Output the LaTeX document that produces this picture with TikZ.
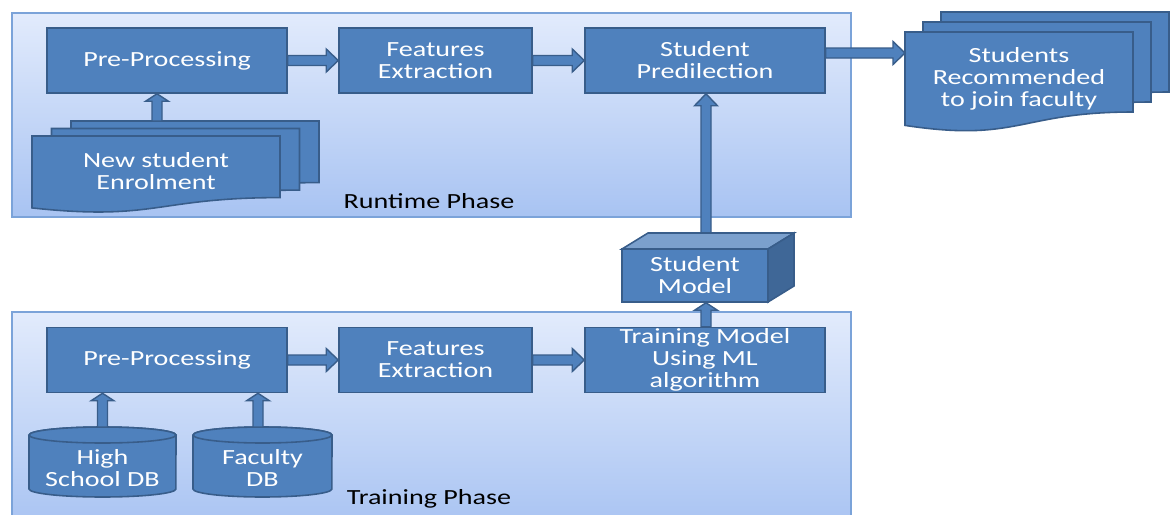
\documentclass[tikz,border=0pt]{standalone}
\usepackage{xcolor}
\usepackage{tikz}
\usetikzlibrary{calc}
\usepackage{fontspec}
\setmainfont{Carlito}[FakeStretch=1.3]
\definecolor{boxfill}{HTML}{4F81BD}
\definecolor{boxline}{HTML}{385D8A}
\definecolor{paneltop}{HTML}{E2EBFC}
\definecolor{panelbot}{HTML}{A8C3F2}
\definecolor{panelline}{HTML}{7BA3D9}

\tikzset{
  stage/.style={draw=boxline,fill=boxfill,text=white,line width=0.9pt,
    minimum height=1.3cm,inner sep=0pt,align=center},
  flow/.style={draw=boxline,fill=boxfill,line width=0.8pt},
  doc/.style={draw=boxline,fill=boxfill,line width=0.9pt},
  panel/.style={draw=panelline,line width=0.6pt,top color=paneltop,bottom color=panelbot},
  lbl/.style={text=white,align=center},
}

% block arrow from #2 to #3, #1 = head length
\newcommand{\conn}[3][0.24cm]{%
  \path (#3) coordinate (tip) ($(#3)!#1!(#2)$) coordinate (neck);
  \filldraw[flow] ($(#2)!0.1cm!90:(tip)$) -- ($(neck)!0.1cm!90:(tip)$)
    -- ($(neck)!0.23cm!90:(tip)$) -- (tip) -- ($(neck)!0.23cm!-90:(tip)$)
    -- ($(neck)!0.1cm!-90:(tip)$) -- ($(#2)!0.1cm!-90:(tip)$) -- cycle;}

% one sheet of a document stack: x, y, width, height
\newcommand{\docpage}[4]{%
  \filldraw[doc] (#1,#2) -- ({#1+#3},#2) -- ({#1+#3},{#2+0.8*#4})
    .. controls ({#1+0.5*#3},{#2+0.8*#4}) and ({#1+0.5*#3},{#2+1.107*#4})
    .. (#1,{#2+0.934*#4}) -- cycle;}

% database drum: x1, y1, x2, y2
\newcommand{\drum}[4]{%
  \filldraw[doc] (#1,{#2+8}) -- (#1,{#4-8})
    arc[start angle=180,end angle=360,x radius={(#3-#1)*0.01cm},y radius=0.16cm]
    -- (#3,{#2+8})
    arc[start angle=0,end angle=180,x radius={(#3-#1)*0.01cm},y radius=0.16cm];
  \draw[doc] ({(#1+#3)/2},{#2+8}) ellipse[x radius={(#3-#1)*0.01cm},y radius=0.16cm];}

\begin{document}
\begin{tikzpicture}[x=0.02cm,y=-0.02cm,font=\fontsize{12.3}{12.5}\selectfont]
  \useasboundingbox (0,0) rectangle (1170,514);
  \clip (0,0) rectangle (1170,514);
  \fill[white] (0,0) rectangle (1170,514);

  % the two phases
  \path[panel] (12,13) rectangle (851,217);
  \path[panel] (12,312) rectangle (851,530);
  \node (runtime) at (429,201) {Runtime Phase};
  \node (training) at (429,499) {Training Phase};

  % runtime row
  \node[stage,minimum width=4.8cm] (pre1) at (167,60.5) {Pre-Processing};
  \node[stage,minimum width=3.86cm] (feat1) at (435.5,60.5) {Features\\Extraction};
  \node[stage,minimum width=4.8cm] (pred) at (705,60.5) {Student\\Predilection};

  \docpage{71}{121}{248}{77}
  \docpage{51.5}{128.5}{248}{77}
  \docpage{32}{136}{248}{77}
  \node[lbl] (enrol) at (156,171.5) {New student\\Enrolment};
  \coordinate (enroltop) at (157,121);

  \docpage{941}{12}{228}{100}
  \docpage{923}{22}{228}{100}
  \docpage{905}{32}{228}{100}
  \node[lbl] (recom) at (1019,79) {Students\\Recommended\\to join faculty};
  \coordinate (recomin) at (905,53);

  \conn{pre1.east}{feat1.west}
  \conn{feat1.east}{pred.west}
  \conn{pred.east |- recomin}{recomin}
  \conn[0.15cm]{enroltop}{pre1.south -| enroltop}

  % training row
  \node[stage,minimum width=4.8cm] (pre2) at (167,360) {Pre-Processing};
  \node[stage,minimum width=3.86cm] (feat2) at (435.5,360) {Features\\Extraction};
  \node[stage,minimum width=4.8cm] (train) at (705,360) {Training Model\\Using ML\\algorithm};

  \drum{29}{427}{176}{497}
  \drum{193}{427}{332}{497}
  \node[lbl] (school) at (102.5,468) {High\\School DB};
  \node[lbl] (faculty) at (262.5,468) {Faculty\\DB};

  \conn{pre2.east}{feat2.west}
  \conn{feat2.east}{train.west}
  \conn[0.15cm]{school.north |- 0,427}{pre2.south -| school.north}
  \conn[0.15cm]{258,427}{pre2.south -| 258,0}

  % model cube, arrow runs up from behind it
  \coordinate (modeltop) at (706,245);
  \conn{modeltop}{pred.south -| modeltop}
  \filldraw[doc,fill=boxfill!75!white] (622,249) -- (648,233) -- (794,233) -- (768,249) -- cycle;
  \filldraw[doc,fill=boxfill!80!black] (768,249) -- (794,233) -- (794,286) -- (768,302) -- cycle;
  \node[stage,minimum width=2.92cm,minimum height=1.06cm] (model) at (695,275.5) {Student\\Model};
  \conn[0.15cm]{train.north -| modeltop}{model.south -| modeltop}
\end{tikzpicture}
\end{document}
